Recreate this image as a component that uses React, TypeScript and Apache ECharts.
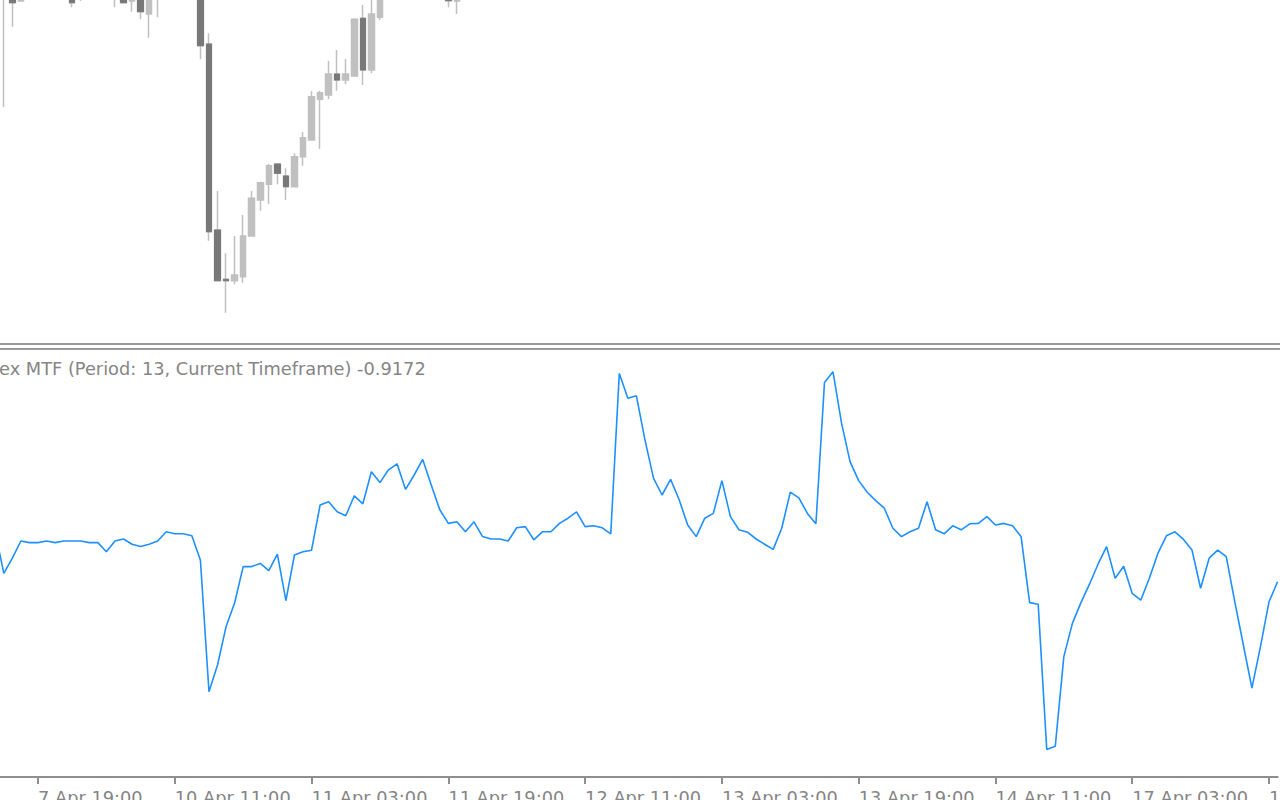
import React, { useEffect, useRef } from "react";
import * as echarts from "echarts";

// ---- time axis (hourly bars, weekend skipped) ----
const MONTH = "Apr";
const SESSIONS: [number, number, number][] = [
  // [day, firstHour, lastHour]
  [7, 14, 23],
  [10, 0, 23],
  [11, 0, 23],
  [12, 0, 23],
  [13, 0, 23],
  [14, 0, 23],
  [17, 0, 20],
];
const CATEGORIES: string[] = [];
SESSIONS.forEach(([d, h0, h1]) => {
  for (let h = h0; h <= h1; h++) CATEGORIES.push(`${d} ${MONTH} ${String(h).padStart(2, "0")}:00`);
});
const FIRST_LABEL_INDEX = 5; // "7 Apr 19:00"
const LABEL_STEP = 16;

// ---- indicator values, one per bar (7 Apr 14:00 .. 17 Apr 20:00) ----
const INDICATOR: number[] = [
  0.33, -0.71, -0.33, 0.1, 0.06, 0.06, 0.1, 0.06, 0.1, 0.1,
  0.1, 0.06, 0.06, -0.17, 0.1, 0.15, 0.02, -0.04, 0.02, 0.1,
  0.33, 0.28, 0.28, 0.23, -0.38, -3.67, -3.0, -2.04, -1.45, -0.54,
  -0.54, -0.46, -0.64, -0.23, -1.39, -0.25, -0.17, -0.13, 1.0, 1.08,
  0.83, 0.73, 1.23, 1.03, 1.83, 1.56, 1.88, 2.03, 1.39, 1.75,
  2.14, 1.5, 0.88, 0.54, 0.58, 0.33, 0.58, 0.21, 0.15, 0.15,
  0.1, 0.43, 0.46, 0.13, 0.33, 0.33, 0.54, 0.67, 0.83, 0.46,
  0.48, 0.43, 0.28, 4.29, 3.67, 3.73, 2.63, 1.67, 1.25, 1.64,
  1.13, 0.5, 0.21, 0.67, 0.79, 1.61, 0.71, 0.38, 0.32, 0.15,
  0.02, -0.11, 0.42, 1.32, 1.18, 0.79, 0.53, 4.06, 4.33, 3.04,
  2.08, 1.61, 1.32, 1.11, 0.92, 0.42, 0.21, 0.33, 0.42, 1.08,
  0.38, 0.28, 0.48, 0.38, 0.53, 0.54, 0.71, 0.5, 0.54, 0.48,
  0.21, -1.44, -1.48, -5.11, -5.03, -2.79, -1.96, -1.44, -0.98, -0.48,
  -0.04, -0.83, -0.53, -1.21, -1.38, -0.83, -0.21, 0.23, 0.33, 0.14,
  -0.13, -1.08, -0.33, -0.13, -0.29, -1.42, -2.5, -3.58, -2.54, -1.42,
  -0.9172,
];

// ---- price candles [open, close, low, high]; null = bar outside the visible price range ----
type OHLC = [number, number, number, number] | null;
const CANDLES: OHLC[] = [
  null,
  [134.6, 135.8, 123.5, 136.2],
  [134.8, 133.93, 131.53, 135.2],
  [134.1, 134.9, 134.1, 135.3],
  null, null, null, null, null,
  [134.6, 133.93, 133.47, 135.0],
  [134.5, 134.9, 134.1, 135.2],
  null, null, null,
  [134.4, 134.8, 133.47, 135.1],
  [134.5, 133.93, 133.93, 134.9],
  [134.1, 134.7, 133.03, 135.0],
  [134.6, 133.03, 132.27, 134.9],
  [132.8, 134.5, 130.43, 134.9],
  [134.4, 134.7, 132.47, 135.0],
  null, null, null, null,
  [134.6, 129.63, 128.3, 135.0],
  [129.8, 111.03, 110.13, 130.87],
  [111.2, 106.13, 106.13, 115.1],
  [106.27, 106.13, 102.93, 108.87],
  [106.13, 106.7, 105.77, 110.6],
  [106.53, 110.6, 105.93, 112.7],
  [110.6, 114.37, 110.6, 115.1],
  [114.2, 115.93, 113.13, 116.03],
  [115.77, 117.63, 113.8, 117.8],
  [117.8, 116.87, 115.77, 117.8],
  [116.6, 115.53, 114.2, 117.37],
  [115.53, 118.53, 115.53, 118.87],
  [118.53, 120.43, 117.63, 121.0],
  [120.2, 124.53, 120.2, 125.1],
  [124.27, 124.93, 119.3, 125.13],
  [124.7, 126.8, 124.27, 128.1],
  [126.8, 126.2, 125.13, 129.2],
  [126.2, 126.8, 125.77, 128.3],
  [126.6, 132.27, 126.6, 132.37],
  [132.37, 127.2, 125.7, 133.7],
  [127.2, 132.8, 126.87, 134.5],
  [132.47, 134.8, 132.2, 135.2],
  null, null, null, null, null, null, null,
  [134.6, 134.13, 133.47, 135.0],
  [134.1, 134.7, 132.8, 135.0],
];

const TITLE = "ex MTF (Period: 13, Current Timeframe)";

const PRICE_MIN = 100;
const PRICE_MAX = 134.2;
const IND_MIN = -5.8;
const IND_MAX = 4.875;

export default function App() {
  const ref = useRef<HTMLDivElement>(null);
  useEffect(() => {
    if (!ref.current) return;
    const chart = echarts.init(ref.current, undefined, { renderer: "svg" });
    const n = CATEGORIES.length;
    const empty = ["-", "-", "-", "-"];
    const allCandles = CATEGORIES.map((_, i) => (CANDLES[i] ? CANDLES[i] : empty));
    const bearBodies = CATEGORIES.map((_, i) => {
      const c = CANDLES[i];
      if (!c || !(c[1] < c[0])) return empty;
      return [c[0], c[1], c[1], c[0]];
    });
    const showIdx = (idx: number) => idx >= FIRST_LABEL_INDEX && (idx - FIRST_LABEL_INDEX) % LABEL_STEP === 0;
    // bar spacing from tick positions
    const step = 1231 / 144;
    const gridLeft = 38 - FIRST_LABEL_INDEX * step;
    const gridRight = 1280 - (gridLeft + (n - 1) * step);
    const axisGray = "#8e8e8e";
    const textGray = "#858585";
    chart.setOption({
      animation: false,
      backgroundColor: "#ffffff",
      grid: [
        { left: gridLeft, right: gridRight, top: 0, height: 342, outerBoundsMode: "none", containLabel: false },
        { left: gridLeft, right: gridRight, top: 350, height: 427, outerBoundsMode: "none", containLabel: false },
      ],
      xAxis: [
        { type: "category", gridIndex: 0, data: CATEGORIES, boundaryGap: false, show: false },
        {
          type: "category",
          gridIndex: 1,
          data: CATEGORIES,
          boundaryGap: false,
          axisLine: { onZero: false, lineStyle: { color: axisGray, width: 2 } },
          axisTick: { interval: (i: number) => showIdx(i), length: 7, lineStyle: { color: axisGray, width: 2 } },
          axisLabel: {
            interval: (i: number) => showIdx(i),
            align: "left",
            color: textGray,
            fontFamily: "DejaVu Sans",
            fontSize: 17.8,
            margin: 11,
            hideOverlap: false,
          },
          splitLine: { show: false },
        },
      ],
      yAxis: [
        { type: "value", gridIndex: 0, min: PRICE_MIN, max: PRICE_MAX, show: false },
        { type: "value", gridIndex: 1, min: IND_MIN, max: IND_MAX, show: false },
      ],
      series: [
        {
          type: "candlestick",
          xAxisIndex: 0,
          yAxisIndex: 0,
          data: allCandles,
          barWidth: 6,
          clip: true,
          itemStyle: {
            color: "#c0c0c0",
            color0: "#c0c0c0",
            borderColor: "#c0c0c0",
            borderColor0: "#c0c0c0",
            borderWidth: 1.5,
          },
        },
        {
          type: "candlestick",
          xAxisIndex: 0,
          yAxisIndex: 0,
          data: bearBodies,
          barWidth: 6,
          clip: true,
          itemStyle: {
            color: "#787878",
            color0: "#787878",
            borderColor: "#787878",
            borderColor0: "#787878",
            borderWidth: 1,
          },
        },
        {
          type: "line",
          xAxisIndex: 1,
          yAxisIndex: 1,
          data: INDICATOR,
          showSymbol: false,
          lineStyle: { color: "#1e90ff", width: 1.6 },
        },
      ],
      graphic: [
        { type: "rect", shape: { x: 0, y: 343, width: 1280, height: 2 }, style: { fill: "#9a9a9a" } },
        { type: "rect", shape: { x: 0, y: 348, width: 1280, height: 2 }, style: { fill: "#9a9a9a" } },
        {
          type: "text",
          x: -1,
          y: 368,
          style: {
            text: `${TITLE} ${INDICATOR[INDICATOR.length - 1].toFixed(4)}`,
            fill: textGray,
            font: "17.8px 'DejaVu Sans'",
            verticalAlign: "middle",
            align: "left",
          },
        },
      ],
    });
    return () => chart.dispose();
  }, []);
  return (
    <div
      ref={ref}
      style={{ position: "fixed", left: 0, top: 0, width: 1280, height: 800, background: "#fff" }}
    />
  );
}
